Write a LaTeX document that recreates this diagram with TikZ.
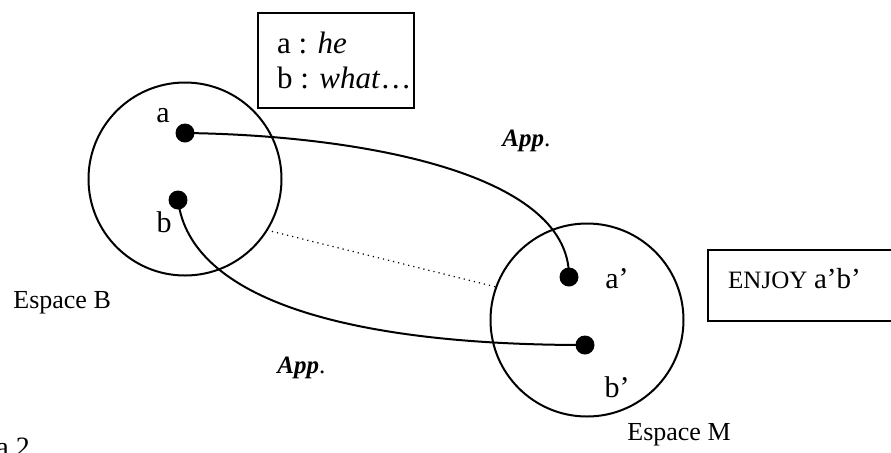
\documentclass[tikz,border=0pt]{standalone}
\usepackage{fontspec}
\setmainfont{Liberation Serif}
\usetikzlibrary{positioning}

\begin{document}
\begin{tikzpicture}[
    x=0.5pt, y=-0.5pt,
    % === STYLES ===
    mentalspace/.style={
        circle,
        draw,
        line width=1pt,
        minimum size=96.5pt,
        inner sep=0pt,
        outer sep=0pt
    },
    point/.style={
        circle,
        fill=black,
        minimum size=9.5pt,
        inner sep=0pt
    },
    ptlabel/.style={
        font=\fontsize{15}{17}\selectfont,
        inner sep=0pt,
        anchor=base
    },
    spacename/.style={
        font=\fontsize{13}{15}\selectfont,
        inner sep=0pt,
        anchor=base west
    },
    applabel/.style={
        font=\fontsize{12.5}{15}\selectfont,
        inner sep=0pt,
        anchor=base west
    },
    infobox/.style={
        draw,
        line width=1.2pt,
        inner sep=0pt,
        anchor=north west,
        align=left
    },
    mapping/.style={
        line width=1pt
    },
    counterpart/.style={
        dotted,
        line width=0.6pt
    }
]
\useasboundingbox (0,0) rectangle (891,452);

% === SPACES ===
\node[mentalspace] (espB) at (185,179) {};
\node[mentalspace] (espM) at (587,320) {};
\node[spacename] (nameB) at (13,308) {Espace B};
\node[spacename] (nameM) at (627,440) {Espace M};

% === ELEMENTS ===
\node[point] (a) at (185,133) {};
\node[point] (b) at (178,200) {};
\node[point] (a2) at (569,277) {};
\node[point] (b2) at (585,345) {};

\node[ptlabel] (la) at (163,122) {a};
\node[ptlabel] (lb) at (164,232) {b};
\node[ptlabel] (la2) at (617,288) {a’};
\node[ptlabel] (lb2) at (617,397) {b’};

% === CONNECTIONS ===
\draw[mapping] (a.center) .. controls +(165,2) and +(1,-107) .. (a2.center);
\draw[mapping] (b.center) .. controls +(12,100) and +(-235,0) .. (b2.center);
\draw[counterpart] (espB.-32) -- (espM.160);

\node[applabel] (app1) at (502,146) {{\bfseries\itshape App}.};
\node[applabel] (app2) at (277,373) {{\bfseries\itshape App}.};

% === BOXES ===
\node[infobox, minimum width=78pt, minimum height=47.5pt,
      font=\fontsize{15.5}{17.5}\selectfont] (gloss) at (257,12)
    {\hspace*{8pt}a : \textit{he}\\\hspace*{8pt}b : \textit{what}…};

\node[infobox, text width=76.5pt, inner xsep=10pt, inner ysep=7pt,
      text height=12pt, text depth=9.5pt] (enjoy) at (707,249)
    {{\fontsize{12.5}{15}\selectfont ENJOY} {\fontsize{14.5}{17}\selectfont a’b’}};

% caption remnant at the lower edge
\node[font=\fontsize{14}{16}\selectfont, inner sep=0pt, anchor=base west] (fignum) at (-4,456) {a 2};

\end{tikzpicture}
\end{document}
